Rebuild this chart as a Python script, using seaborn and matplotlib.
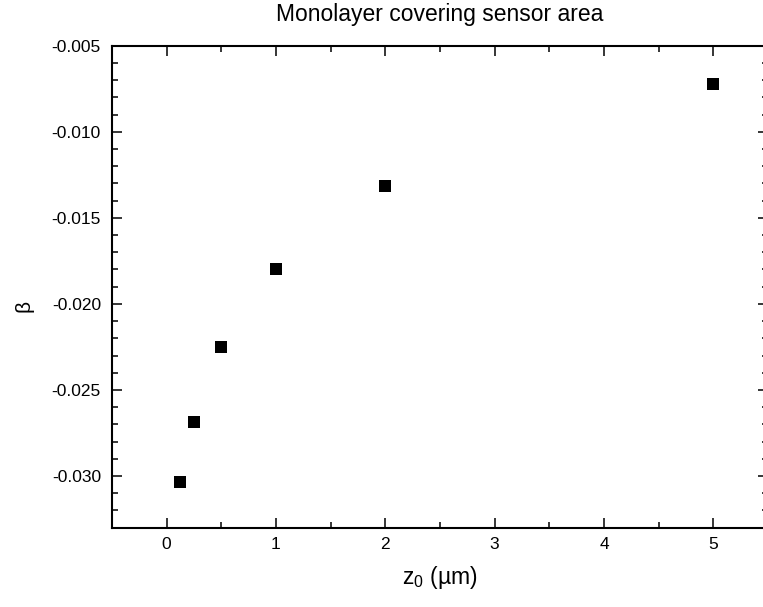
import matplotlib
matplotlib.use("Agg")
import matplotlib.pyplot as plt
import seaborn as sns
import pandas as pd
from matplotlib.ticker import MultipleLocator, FormatStrFormatter

z0 = [0.125, 0.25, 0.5, 1.0, 2.0, 5.0]
beta = [-0.03037, -0.02686, -0.02253, -0.01795, -0.01314, -0.00723]
xticks = [0, 1, 2, 3, 4, 5]
yticks = [-0.030, -0.025, -0.020, -0.015, -0.010, -0.005]

sns.set_style("ticks")
plt.rcParams['font.family'] = ['Liberation Sans', 'DejaVu Sans']
plt.rcParams['text.color'] = 'black'
plt.rcParams['axes.labelcolor'] = 'black'
plt.rcParams['xtick.color'] = 'black'
plt.rcParams['ytick.color'] = 'black'
plt.rcParams['mathtext.fontset'] = 'custom'
plt.rcParams['mathtext.rm'] = 'Liberation Sans'
plt.rcParams['mathtext.it'] = 'Liberation Sans'

df = pd.DataFrame({"z0": z0, "beta": beta})

fig = plt.figure(figsize=(7.63, 6.07), dpi=100)
ax = fig.add_axes([112/763, 1-527.7/607, (768-112)/763, (527.7-45.7)/607])

sns.scatterplot(data=df, x="z0", y="beta", marker="s", s=70, color="black",
                edgecolor="black", linewidth=0, ax=ax, legend=False)

ax.set_xlim(-0.5, 5.5)
ax.set_ylim(-0.033, -0.005)
ax.set_xticks(xticks)
ax.set_yticks(yticks)
ax.yaxis.set_major_formatter(FormatStrFormatter('%.3f'))
ax.xaxis.set_minor_locator(MultipleLocator(0.5))
ax.yaxis.set_minor_locator(MultipleLocator(0.001))

for sp in ax.spines.values():
    sp.set_visible(True)
    sp.set_linewidth(1.5)
    sp.set_color("black")

ax.tick_params(which="both", direction="in", top=True, right=True, width=1.1, color="black")
ax.tick_params(which="major", length=7)
ax.tick_params(which="minor", length=4)
ax.tick_params(axis="y", which="major", labelsize=12.5, pad=8)
ax.tick_params(axis="x", which="major", labelsize=12.5, pad=7)

ax.set_xlabel("z$_{\\mathregular{0}}$ (µm)", fontsize=16.5, labelpad=8)
ax.set_ylabel("β", fontsize=15)
ax.yaxis.set_label_coords(-0.12, 0.46)
ax.set_title("Monolayer covering sensor area", fontsize=16.5, pad=18, color="black")

fig.savefig("out.png", dpi=100)
